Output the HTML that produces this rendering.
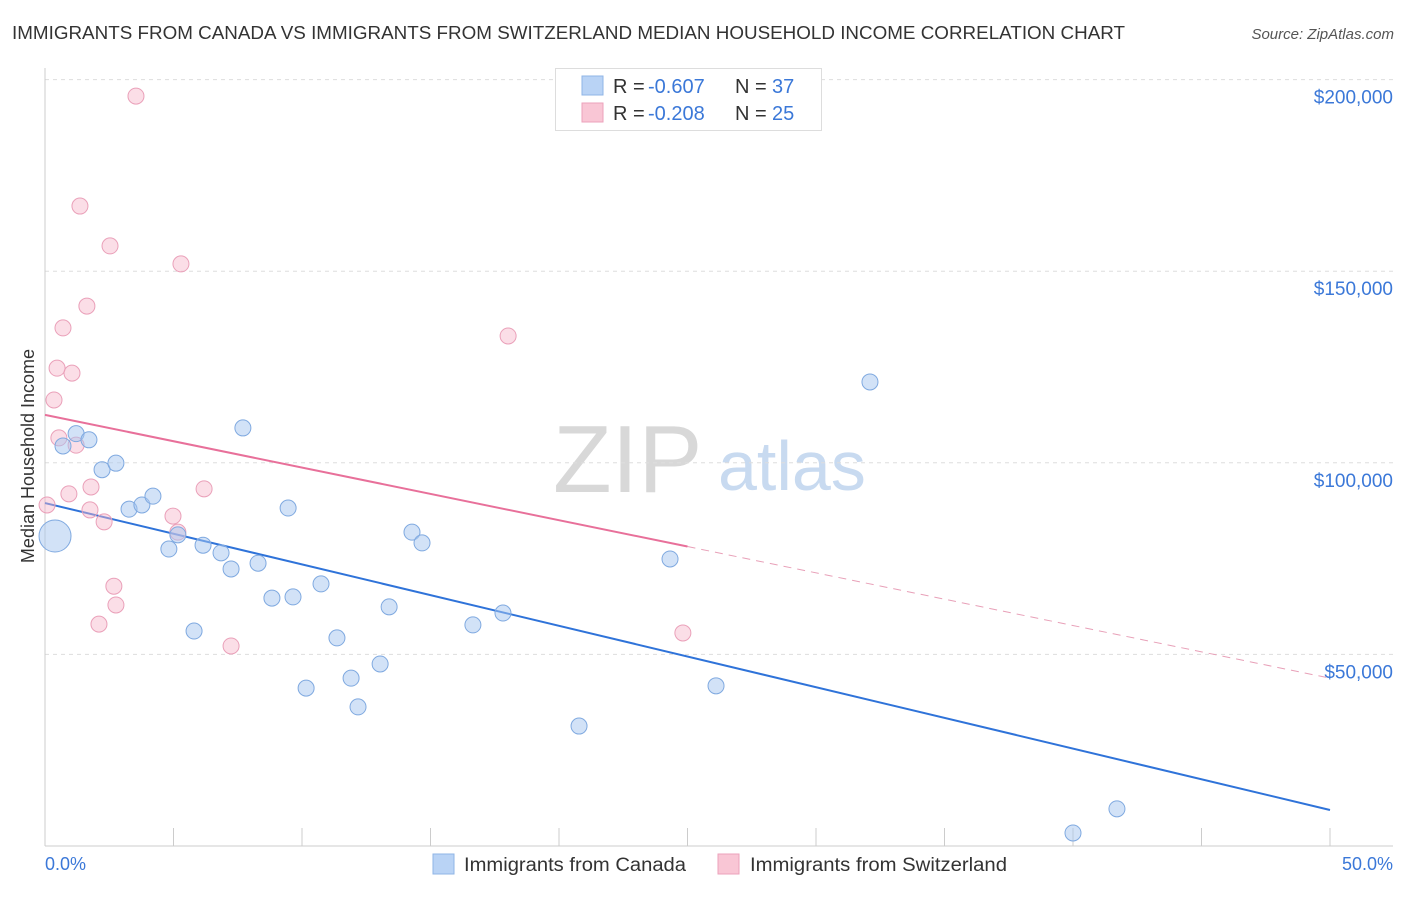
<!DOCTYPE html>
<html><head><meta charset="utf-8"><style>
body{margin:0;background:#fff;font-family:"Liberation Sans",sans-serif;}
svg text{font-family:"Liberation Sans",sans-serif;}
</style></head><body>
<svg id="chart" width="1406" height="892">
<text x="12" y="39" font-size="18" fill="#333" textLength="1113" lengthAdjust="spacingAndGlyphs">IMMIGRANTS FROM CANADA VS IMMIGRANTS FROM SWITZERLAND MEDIAN HOUSEHOLD INCOME CORRELATION CHART</text>
<text x="1394" y="39" font-size="15" fill="#555" font-style="italic" text-anchor="end">Source: ZipAtlas.com</text>
<g>
<text x="553" y="492" font-size="96" font-family="Liberation Serif" fill="#d8d8d8">ZIP</text>
<text x="718" y="490" font-size="70" fill="#c8daf0">atlas</text>
</g>
<g id="grid"></g>
<g id="axes"></g>
<g id="trends"></g>
<g id="points"></g>
<text x="34" y="456" font-size="18" fill="#333" text-anchor="middle" transform="rotate(-90 34 456)">Median Household Income</text>
<text x="45" y="870" font-size="18" fill="#3b78d8">0.0%</text>
<text x="1393" y="870" font-size="18" fill="#3b78d8" text-anchor="end">50.0%</text>
<g>
<rect x="555.5" y="68.5" width="266" height="62" fill="#fff" stroke="#ddd"/>
<rect x="582" y="76" width="21" height="19" fill="#b9d3f5" stroke="#8fb4e6"/>
<rect x="582" y="103" width="21" height="19" fill="#f9c6d5" stroke="#eca2bb"/>
<text x="613" y="93" font-size="20" fill="#333">R = </text>
<text x="648" y="93" font-size="20" fill="#3b78d8">-0.607</text>
<text x="735" y="93" font-size="20" fill="#333">N = </text>
<text x="772" y="93" font-size="20" fill="#3b78d8">37</text>
<text x="613" y="120" font-size="20" fill="#333">R = </text>
<text x="648" y="120" font-size="20" fill="#3b78d8">-0.208</text>
<text x="735" y="120" font-size="20" fill="#333">N = </text>
<text x="772" y="120" font-size="20" fill="#3b78d8">25</text>
</g>
<g>
<rect x="433" y="854" width="21" height="20" fill="#b9d3f5" stroke="#8fb4e6"/>
<text x="464" y="871" font-size="19" fill="#333" textLength="222" lengthAdjust="spacingAndGlyphs">Immigrants from Canada</text>
<text x="750" y="871" font-size="19" fill="#333" textLength="257" lengthAdjust="spacingAndGlyphs">Immigrants from Switzerland</text>
<rect x="718" y="854" width="21" height="20" fill="#f9c6d5" stroke="#eca2bb"/>
</g>
</svg>
<script>
const yTicks=[50000,100000,150000,200000];
const yTickLabels=["$50,000","$100,000","$150,000","$200,000"];
const xTicks=[0,5,10,15,20,25,30,35,40,45,50];
const canadaX=[0.39,0.70,1.21,1.71,2.22,2.76,3.27,3.77,4.20,4.82,5.17,5.80,6.15,6.85,7.24,7.70,8.29,8.83,9.46,9.65,10.16,10.74,11.36,11.91,12.18,13.04,13.39,14.28,14.67,16.65,17.82,20.78,24.32,26.11,32.10,40.00,41.71];
const canadaY=[80900,104400,107600,106000,98200,99900,87900,89000,91300,77500,81200,56100,78500,76500,72300,109100,73800,64700,88200,65000,41200,68400,54300,43800,36300,47500,62400,81900,79100,57700,60800,31300,74900,41800,121100,3400,9700];
const swissX=[0.08,0.35,0.54,0.70,0.47,0.93,1.05,1.21,1.36,1.63,1.79,1.75,2.30,2.53,2.68,2.76,2.10,3.54,4.98,5.17,5.29,6.19,7.24,18.02,24.82];
const swissY=[89000,116400,106500,135200,124700,91900,123400,104600,167000,140900,93700,87700,84600,156600,67800,62900,57900,195700,86100,81900,151900,93200,52200,133100,55600];
const canadaTrend=[89500,9400];
const swissTrend=[112500,43800];
const swissSolidEnd=25;
const NS="http://www.w3.org/2000/svg";
const X=v=>45+v/50*1285;
const Y=v=>846-v/50000*191.6;
function mk(t,a,p){const e=document.createElementNS(NS,t);for(const k in a)e.setAttribute(k,a[k]);p.appendChild(e);return e;}
const grid=document.getElementById('grid'),axes=document.getElementById('axes'),tr=document.getElementById('trends'),pts=document.getElementById('points');
yTicks.forEach((v,i)=>{
 const l=mk('line',{x1:45,x2:1393,y1:Y(v),y2:Y(v),stroke:'#ddd','stroke-dasharray':'4,4'},grid);
 
 
 const t=mk('text',{x:1393,y:Y(v)+24,'font-size':19,fill:'#3b78d8','text-anchor':'end'},grid);
 t.textContent=yTickLabels[i];
 
 
});
const ya=mk('line',{x1:45,x2:45,y1:68,y2:846,stroke:'#ccc'},axes);


const xa=mk('line',{x1:45,x2:1393,y1:846,y2:846,stroke:'#ccc'},axes);


xTicks.forEach(v=>{const t=mk('line',{x1:X(v),x2:X(v),y1:828,y2:846,stroke:'#ccc'},axes);
 
 });
const cl=mk('line',{x1:X(0),y1:Y(canadaTrend[0]),x2:X(50),y2:Y(canadaTrend[1]),stroke:'#2f73d9','stroke-width':2},tr);


const sy=v=>swissTrend[0]+(swissTrend[1]-swissTrend[0])*v/50;
const sl=mk('line',{x1:X(0),y1:Y(sy(0)),x2:X(swissSolidEnd),y2:Y(sy(swissSolidEnd)),stroke:'#e8709a','stroke-width':2},tr);


const sd=mk('line',{x1:X(swissSolidEnd),y1:Y(sy(swissSolidEnd)),x2:X(50),y2:Y(sy(50)),stroke:'#e8a0b8','stroke-width':1,'stroke-dasharray':'8,6'},tr);


swissX.forEach((x,i)=>{const c=mk('circle',{cx:X(x),cy:Y(swissY[i]),r:8,fill:'rgba(247,182,202,0.45)',stroke:'#eaa0b9','stroke-width':1},pts);
 
 });
canadaX.forEach((x,i)=>{const c=mk('circle',{cx:X(x),cy:Y(canadaY[i]),r:i===0?16:8,fill:'rgba(165,198,240,0.5)',stroke:'#7fa9e0','stroke-width':1},pts);
 
 });
</script>
</body></html>
